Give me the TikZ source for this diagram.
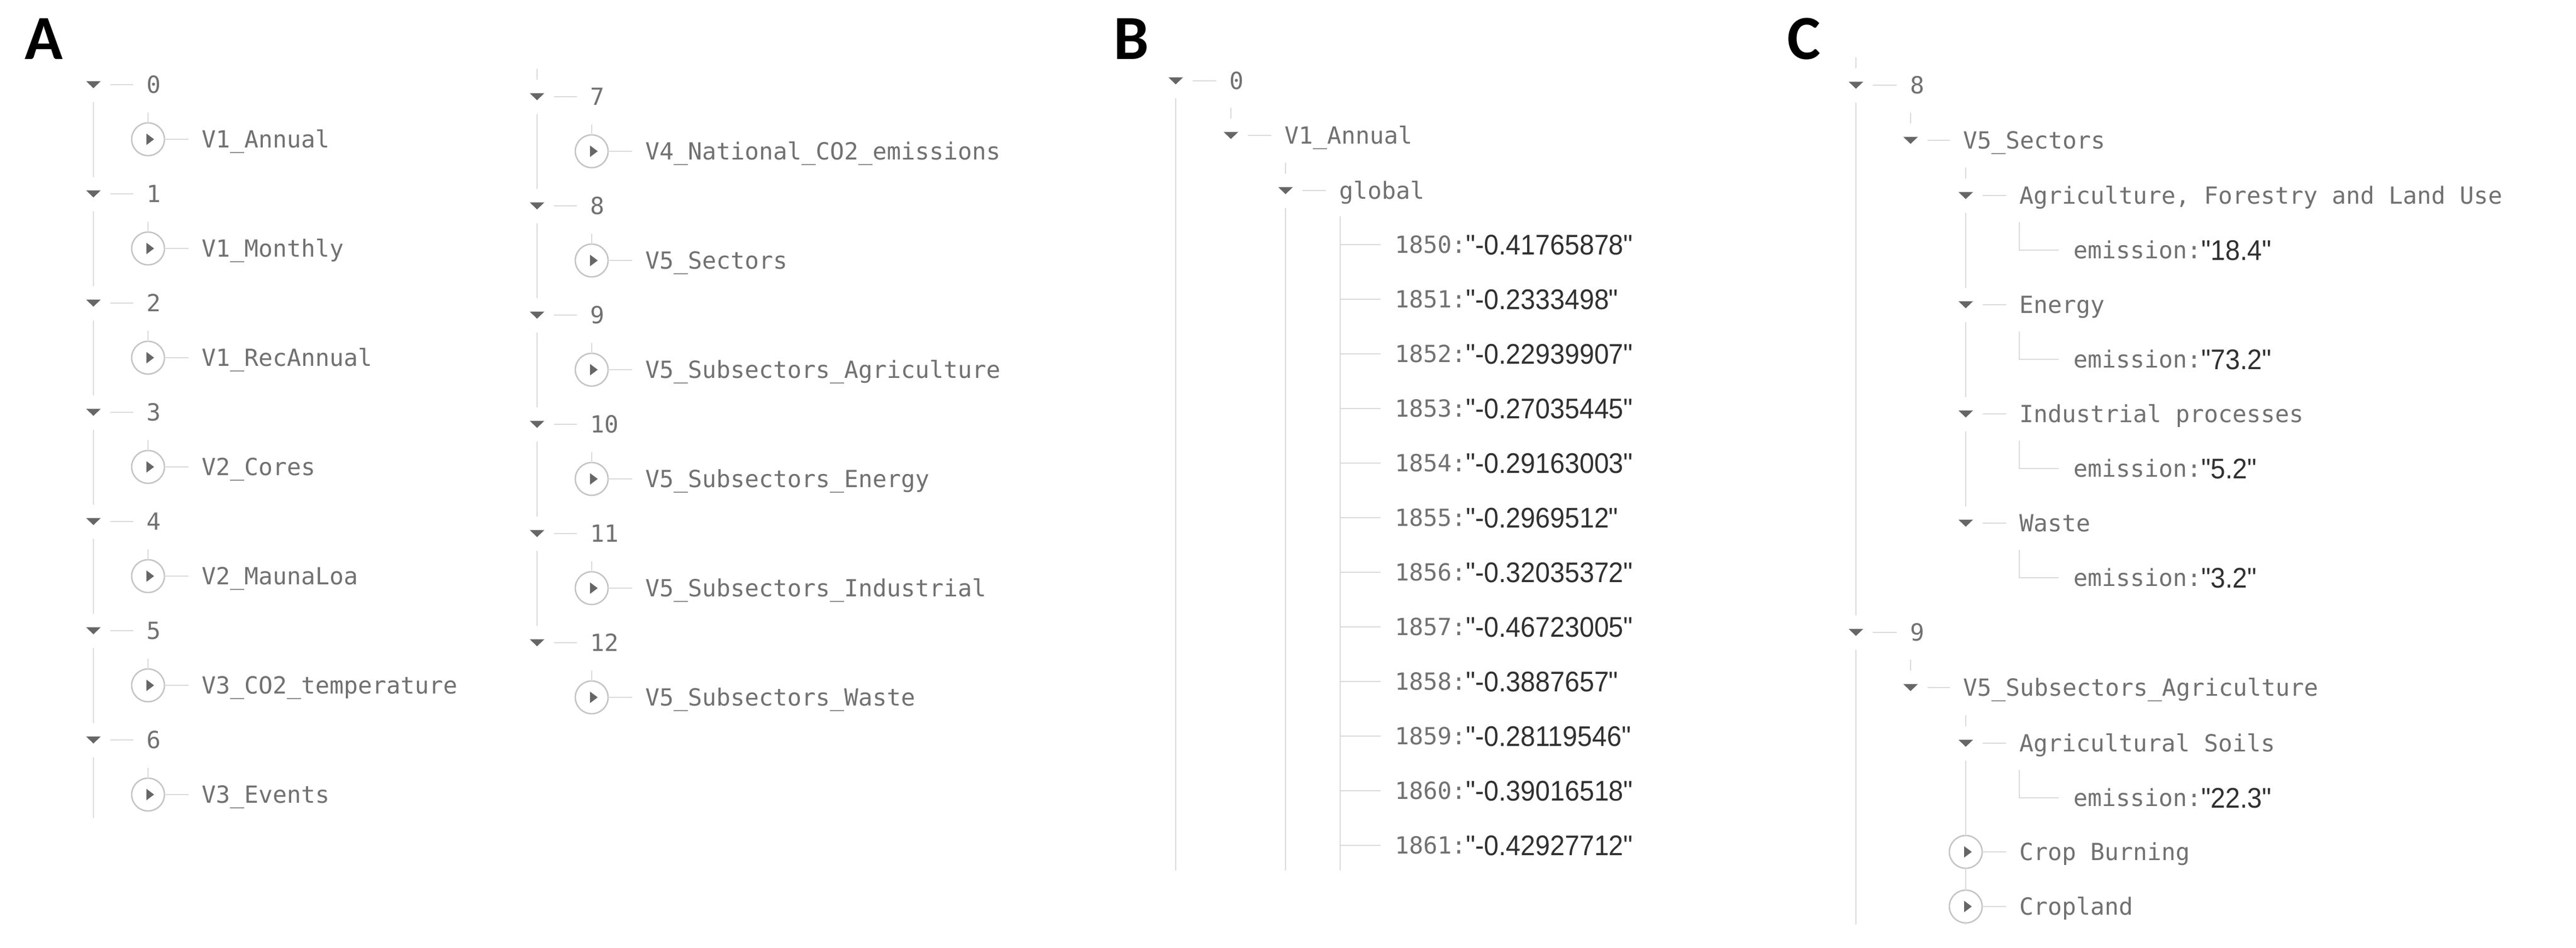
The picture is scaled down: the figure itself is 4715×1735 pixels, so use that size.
\documentclass[tikz,border=0pt]{standalone}
\usepackage{fontspec}
\usepackage{tikz}
\usetikzlibrary{positioning}
\newfontfamily\keyfont{DejaVu Sans Mono}
\newfontfamily\valfont[FakeStretch=0.93]{Liberation Sans}
\newfontfamily\panelfont{Carlito}
\definecolor{linegray}{HTML}{DADADA}
\definecolor{caretgray}{HTML}{666666}
\definecolor{ringgray}{HTML}{C4C4C4}
\definecolor{keygray}{HTML}{717171}
\definecolor{valgray}{HTML}{303030}
\newcommand{\keysize}{21.6pt}
\newcommand{\valsize}{26pt}
\tikzstyle{tree}=[draw=linegray, line width=1.3pt]
\tikzstyle{twig}=[tree, shorten >=12pt]
\tikzstyle{caret}=[fill=white, inner sep=0, outer xsep=8.75pt, outer ysep=12.5pt,
                   minimum width=13.5pt, minimum height=6.5pt,
                   % Down-pointing arrow drawn inside the box.
                   path picture={\fill[caretgray] (path picture bounding box.north west)
                     -- (path picture bounding box.north east) -- (path picture bounding box.south) -- cycle;}]
\tikzstyle{expander}=[circle, draw=ringgray, fill=white, line width=1.3pt, inner sep=0, outer sep=0, minimum size=30pt,
                      path picture={\fill[caretgray] ([xshift=-1.5pt, yshift=5.25pt]path picture bounding box.center)
                        -- ++(0,-10.5pt) -- ++(7pt,5.25pt) -- cycle;}]
\tikzstyle{key}=[font=\keyfont\fontsize{\keysize}{\keysize}\selectfont, text=keygray,
                 inner sep=0, outer sep=0, text height=15.8pt, text depth=0pt, anchor=west]
\tikzstyle{val}=[font=\valfont\fontsize{\valsize}{\valsize}\selectfont, text=valgray,
                 inner sep=0, outer sep=0, text height=18.6pt, text depth=0pt]
\tikzstyle{panel}=[font=\panelfont\bfseries\fontsize{57.5pt}{57.5pt}\selectfont, inner sep=0, anchor=base west]

\begin{document}
\begin{tikzpicture}[x=0.5pt, y=-0.5pt]
    \useasboundingbox (0,0) rectangle (4715,1735);
    \node[panel] (labA) at (45,108) {A};
    \node[panel] (labB) at (2038,108) {B};
    \node[panel] (labC) at (3271,108) {C};

    % A: top level list, two columns
    \foreach \n/\name/\cx/\cy in {0/V1\_Annual/171/155, 1/V1\_Monthly/171/355, 2/V1\_RecAnnual/171/555,
        3/V2\_Cores/171/755, 4/V2\_MaunaLoa/171/955, 5/V3\_CO2\_temperature/171/1155, 6/V3\_Events/171/1355,
        7/V4\_National\_CO2\_emissions/983/177, 8/V5\_Sectors/983/377, 9/V5\_Subsectors\_Agriculture/983/577,
        10/V5\_Subsectors\_Energy/983/777, 11/V5\_Subsectors\_Industrial/983/977, 12/V5\_Subsectors\_Waste/983/1177} {
        \node[caret] (ac\n) at (\cx,\cy) {};
        \node[key] (ak\n) at (\cx+97,\cy) {\n};
        \node[expander] (ae\n) at (\cx+100,\cy+100) {};
        \node[key] (an\n) at (\cx+198,\cy+100) {\name};
        \draw[twig] (ac\n) -- (ak\n);
        \draw[twig] (ae\n) -- (an\n);
        \draw[tree] (ae\n.north) -- +(0,-19);
    }
    \coordinate (aend) at (171,1498);
    \foreach \p/\q in {0/1, 1/2, 2/3, 3/4, 4/5, 5/6, 7/8, 8/9, 9/10, 10/11, 11/12}
        \draw[tree] (ac\p) -- (ac\q);
    \draw[tree] (ac6) -- (aend);
    \draw[tree] (ac7.north) -- +(0,-20);

    % B: one record opened
    \node[caret] (bc0) at (2152,148) {};
    \node[key] (bk0) at (2250,148) {0};
    \node[caret] (bc1) at (2253,248) {};
    \node[key] (bk1) at (2351,248) {V1\_Annual};
    \node[caret] (bc2) at (2353,349) {};
    \node[key] (bk2) at (2451,349) {global};
    \coordinate (bend0) at (2152,1594);
    \coordinate (bend2) at (2353,1594);
    \coordinate (btop) at (2453,396);
    \coordinate (bend3) at (2453,1594);
    \draw[twig] (bc0) -- (bk0);
    \draw[twig] (bc1) -- (bk1);
    \draw[twig] (bc2) -- (bk2);
    \draw[tree] (bc0) -- (bend0);
    \draw[tree] (bc2) -- (bend2);
    \draw[tree] (btop) -- (bend3);
    \draw[tree] (bc1.north) -- +(0,-20);
    \draw[tree] (bc2.north) -- +(0,-20);
    \foreach \yr/\v [count=\i from 0] in {1850/-0.41765878, 1851/-0.2333498, 1852/-0.22939907, 1853/-0.27035445,
        1854/-0.29163003, 1855/-0.2969512, 1856/-0.32035372, 1857/-0.46723005, 1858/-0.3887657,
        1859/-0.28119546, 1860/-0.39016518, 1861/-0.42927712} {
        \node[key] (bk\yr) at (2553,448+100*\i) {\yr:};
        \node[val, right=0pt of bk\yr] (bv\yr) {"\v"};
        \draw[tree, shorten <=13pt] (bk\yr.west) -- (bk\yr.west -| btop);
    }

    % C: sectors and subsectors
    \node[caret] (cc8) at (3397,156) {};
    \node[key] (ck8) at (3496,156) {8};
    \node[caret] (ccsec) at (3497,257) {};
    \node[key] (cksec) at (3593,257) {V5\_Sectors};
    \node[caret] (cs1) at (3598,358) {};
    \node[key] (cn1) at (3696,358) {Agriculture, Forestry and Land Use};
    \node[caret] (cs2) at (3598,558) {};
    \node[key] (cn2) at (3696,558) {Energy};
    \node[caret] (cs3) at (3598,758) {};
    \node[key] (cn3) at (3696,758) {Industrial processes};
    \node[caret] (cs4) at (3598,958) {};
    \node[key] (cn4) at (3696,958) {Waste};
    \node[caret] (cc9) at (3397,1158) {};
    \node[key] (ck9) at (3496,1158) {9};
    \node[caret] (ccsub) at (3497,1259) {};
    \node[key] (cksub) at (3593,1259) {V5\_Subsectors\_Agriculture};
    \node[caret] (cs5) at (3598,1361) {};
    \node[key] (cn5) at (3696,1361) {Agricultural Soils};
    \node[expander] (cx6) at (3598,1560) {};
    \node[key] (cn6) at (3696,1560) {Crop Burning};
    \node[expander] (cx7) at (3598,1660) {};
    \node[key] (cn7) at (3696,1660) {Cropland};
    \foreach \s/\v in {1/18.4, 2/73.2, 3/5.2, 4/3.2, 5/22.3} {
        \node[key] (ce\s) at ([xshift=49.5pt, yshift=-50pt]cn\s.west) {emission:};
        \node[val, right=0pt of ce\s] (cv\s) {"\v"};
        \draw[tree, shorten <=13.5pt] (ce\s.west) -- (ce\s.west -| cn\s.west) -- +(0,-51);
    }
    \coordinate (cend9) at (3397,1693);
    \coordinate (cend5) at (3598,1693);
    \foreach \a/\b in {cc8/ck8, ccsec/cksec, cs1/cn1, cs2/cn2, cs3/cn3, cs4/cn4, cc9/ck9, ccsub/cksub, cs5/cn5, cx6/cn6, cx7/cn7}
        \draw[twig] (\a) -- (\b);
    \draw[tree] (cc8) -- (cc9);
    \draw[tree] (cc9) -- (cend9);
    \draw[tree] (cs1) -- (cs2);
    \draw[tree] (cs2) -- (cs3);
    \draw[tree] (cs3) -- (cs4);
    \draw[tree] (cs5) -- (cx6);
    \draw[tree] (cx6) -- (cx7);
    \draw[tree] (cx7) -- (cend5);
    \draw[tree] (cc8.north) -- +(0,-20);
    \draw[tree] (ccsec.north) -- +(0,-20);
    \draw[tree] (cs1.north) -- +(0,-20);
    \draw[tree] (ccsub.north) -- +(0,-20);
    \draw[tree] (cs5.north) -- +(0,-20);
\end{tikzpicture}
\end{document}
